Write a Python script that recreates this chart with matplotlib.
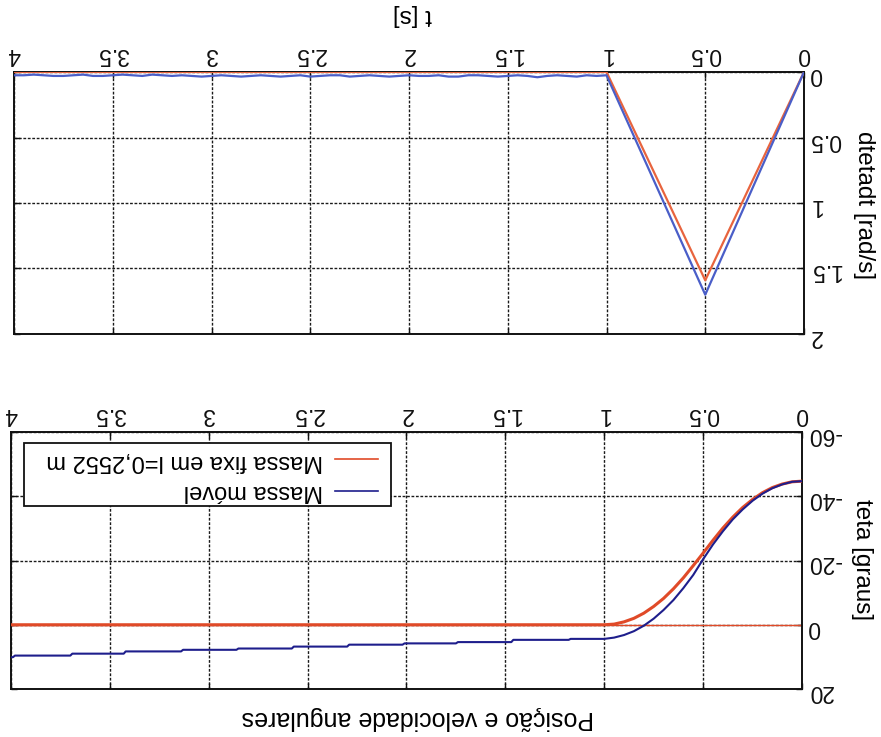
import matplotlib
matplotlib.use("Agg")
import matplotlib.pyplot as plt
from matplotlib.patches import Rectangle
from matplotlib.ticker import FormatStrFormatter

plt.rcParams['font.family'] = ['Liberation Sans', 'DejaVu Sans']
plt.rcParams['axes.unicode_minus'] = False

# ---------------- data ----------------
x_ticks = [0, 0.5, 1, 1.5, 2, 2.5, 3, 3.5, 4]
vel_ticks = [0, 0.5, 1, 1.5, 2]
ang_ticks = [-60, -40, -20, 0, 20]

# angular velocity, fixed mass
vel_fixa_t = [0.0, 0.5, 1.0, 4.0]
vel_fixa = [0.0, 1.59, 0.0, 0.0]

# angular velocity, moving mass
vel_movel_t = [0.0, 0.5, 1.0, 1.05, 1.10, 1.15, 1.20, 1.25, 1.30, 1.35, 1.40, 1.45,
               1.50, 1.55, 1.60, 1.65, 1.70, 1.75, 1.80, 1.85, 1.90, 1.95, 2.00,
               2.05, 2.10, 2.15, 2.20, 2.25, 2.30, 2.35, 2.40, 2.45, 2.50, 2.55,
               2.60, 2.65, 2.70, 2.75, 2.80, 2.85, 2.90, 2.95, 3.00, 3.05, 3.10,
               3.15, 3.20, 3.25, 3.30, 3.35, 3.40, 3.45, 3.50, 3.55, 3.60, 3.65,
               3.70, 3.75, 3.80, 3.85, 3.90, 3.95, 4.00]
vel_movel = [0.0, 1.70, 0.025, 0.03, 0.025, 0.035, 0.03, 0.025, 0.03, 0.04, 0.03, 0.025,
             0.03, 0.035, 0.03, 0.025, 0.025, 0.035, 0.035, 0.025, 0.03, 0.03, 0.025,
             0.03, 0.035, 0.03, 0.025, 0.03, 0.035, 0.025, 0.025, 0.03, 0.035, 0.025,
             0.03, 0.035, 0.03, 0.025, 0.03, 0.035, 0.03, 0.025, 0.03, 0.035, 0.03,
             0.025, 0.03, 0.025, 0.02, 0.03, 0.025, 0.02, 0.025, 0.03, 0.03, 0.02,
             0.025, 0.03, 0.03, 0.025, 0.02, 0.025, 0.025]

# angle (degrees), fixed mass
ang_fixa_t = [0.0, 0.05, 0.1, 0.15, 0.2, 0.25, 0.3, 0.35, 0.4, 0.45, 0.5, 0.55,
              0.6, 0.65, 0.7, 0.75, 0.8, 0.85, 0.9, 0.95, 1.0, 4.0]
ang_fixa = [-44.7, -44.5, -43.8, -42.7, -41.1, -39.0, -36.5, -33.5, -30.1, -26.3,
            -22.3, -18.4, -14.6, -11.2, -8.2, -5.7, -3.6, -2.0, -0.9, -0.2, 0.0, 0.0]

# angle (degrees), moving mass
ang_movel_t = [0.0, 0.05, 0.1, 0.15, 0.2, 0.25, 0.3, 0.35, 0.4, 0.45, 0.5, 0.55,
               0.6, 0.65, 0.7, 0.75, 0.8, 0.85, 0.9, 0.95, 1.0,
               1.17, 1.18, 1.46, 1.47, 1.74, 1.75, 2.01, 2.02, 2.29, 2.30, 2.57, 2.58,
               2.85, 2.86, 3.13, 3.14, 3.42, 3.43, 3.69, 3.70, 3.98, 3.99, 4.0]
ang_movel = [-44.7, -44.5, -43.7, -42.5, -40.8, -38.6, -35.9, -32.8, -29.1, -25.0,
             -20.4, -15.5, -11.4, -7.7, -4.6, -1.9, 0.3, 2.0, 3.2, 4.0, 4.4,
             4.4, 4.7, 4.7, 5.4, 5.4, 5.8, 5.8, 6.2, 6.2, 6.8, 6.8, 7.4,
             7.4, 7.8, 7.8, 8.3, 8.3, 9.0, 9.0, 9.6, 9.6, 10.1, 10.1]

legend_labels = ['Massa móvel', 'Massa fixa em l=0,2552 m']

# ---------------- styling ----------------
red_top = '#e8643e'
blue_top = '#4a5ec8'
red_bot = '#e04a28'
blue_bot = '#1e1e8c'
tick_fs = 16.5
label_fs = 17.5

W, H = 881, 737
fig = plt.figure(figsize=(W / 100, H / 100), dpi=100)


def px_axes(x0, y0, x1, y1):
    return fig.add_axes([x0 / W, 1 - y1 / H, (x1 - x0) / W, (y1 - y0) / H])


ax1 = px_axes(14, 72, 804, 334)
ax2 = px_axes(11, 432, 802, 689)

for ax in (ax1, ax2):
    ax.set_xlim(4, 0)
    ax.set_xticks(x_ticks)
    ax.xaxis.set_major_formatter(FormatStrFormatter('%g'))
    ax.yaxis.set_major_formatter(FormatStrFormatter('%g'))
    ax.tick_params(axis='both', which='both', direction='in', length=4, width=1,
                   top=True, bottom=True, left=True, right=True,
                   labeltop=True, labelbottom=False, labelright=True, labelleft=False,
                   labelsize=tick_fs, labelrotation=180, pad=4, colors='#111111')
    ax.grid(True, color='#1a1a1a', linestyle=(0, (2.0, 1.2)), linewidth=1.0)
    for s in ax.spines.values():
        s.set_linewidth(1.4)
        s.set_color('#111111')

ax1.set_ylim(2, 0)
ax1.set_yticks(vel_ticks)
ax2.set_ylim(20, -60)
ax2.set_yticks(ang_ticks)

# velocity panel
ax1.plot(vel_fixa_t, vel_fixa, color=red_top, lw=1.6, zorder=3)
ax1.plot(vel_movel_t, vel_movel, color=blue_top, lw=1.6, zorder=4)

# angle panel
ax2.axhline(0, color=red_bot, lw=1.0, zorder=2)
ax2.plot(ang_fixa_t, ang_fixa, color=red_bot, lw=2.2, zorder=3)
ax2.plot(ang_movel_t, ang_movel, color=blue_bot, lw=1.5, zorder=4)

# legend (drawn upside down like the rest of the page)
ax2.add_patch(Rectangle((0.0164, 0.712), 0.4636, 0.245, transform=ax2.transAxes,
                        facecolor='white', edgecolor='#111111', lw=1.3, zorder=10))
ax2.plot([0.410, 0.464], [0.895, 0.895], transform=ax2.transAxes, color=red_bot,
         lw=1.2, zorder=11)
ax2.plot([0.410, 0.464], [0.770, 0.770], transform=ax2.transAxes, color=blue_bot,
         lw=1.2, zorder=11)
ax2.text(0.395, 0.888, legend_labels[1], transform=ax2.transAxes, rotation=180,
         ha='right', va='center', fontsize=17, zorder=12)
ax2.text(0.395, 0.770, legend_labels[0], transform=ax2.transAxes, rotation=180,
         ha='right', va='center', fontsize=17, zorder=12)

# labels and title
fig.text(412 / W, 1 - 15 / H, 't [s]', rotation=180, ha='center', va='center',
         fontsize=label_fs)
fig.text(864 / W, 1 - 205 / H, 'dtetadt [rad/s]', rotation=270, ha='center',
         va='center', fontsize=label_fs)
fig.text(862 / W, 1 - 560 / H, 'teta [graus]', rotation=270, ha='center',
         va='center', fontsize=label_fs)
fig.text(418 / W, 1 - 718 / H, 'Posição e velocidade angulares', rotation=180,
         ha='center', va='center', fontsize=18)

fig.savefig('out.png', dpi=100)
